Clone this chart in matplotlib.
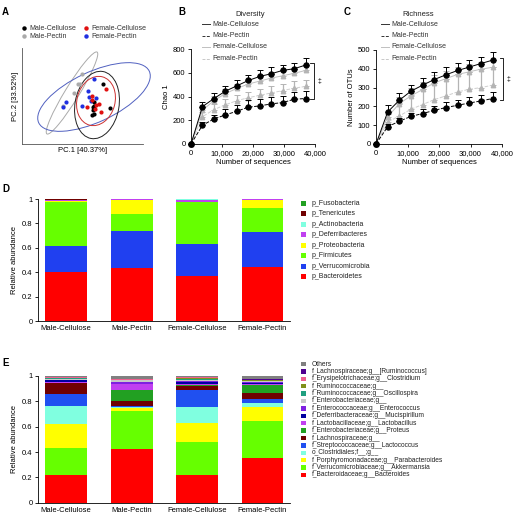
import numpy as np
import matplotlib
matplotlib.use("Agg")
import matplotlib.pyplot as plt
from matplotlib.patches import Ellipse, Rectangle
from matplotlib.ticker import FuncFormatter

plt.rcParams['font.family'] = ['Liberation Sans', 'DejaVu Sans']

W, H = 515, 524

# ---- panel A : PCoA ----
mc_pts_x = [81, 88, 71, 72, 70, 72, 71, 72]
mc_pts_y = [60, 36, 37, 42, 29, 30, 34, 38]
fc_pts_x = [84, 70, 77, 65, 74, 79, 70, 73]
fc_pts_y = [55, 44, 40, 37, 39, 32, 48, 35]
fp_pts_x = [72, 66, 74, 69, 60, 44, 41, 67]
fp_pts_y = [65, 53, 46, 43, 38, 42, 37, 47]
mp_pts_x = [60, 56, 52, 41, 58]
mp_pts_y = [70, 60, 51, 38, 60]
# ellipses: centre x, centre y, major, minor, angle
ell_mc = (75, 39, 68, 44, 80)
ell_fc = (74, 43, 50, 38, 75)
ell_fp = (72, 47, 122, 50, 25)
ell_mp = (50, 51, 96, 14, 58.5)

# ---- panels B/C : rarefaction ----
seqs = [0, 3700, 7400, 11100, 14800, 18500, 22200, 25900, 29600, 33300, 37000]
chao_mc = [0, 315, 383, 445, 490, 535, 569, 592, 620, 634, 665]
chao_mc_err = [0, 35, 45, 40, 45, 50, 50, 55, 45, 50, 60]
chao_mp = [0, 158, 211, 245, 276, 310, 321, 338, 349, 377, 383]
chao_mp_err = [0, 30, 35, 50, 55, 60, 55, 60, 55, 65, 65]
chao_fc = [0, 285, 365, 425, 468, 505, 530, 555, 575, 595, 620]
chao_fc_err = [0, 30, 40, 35, 40, 40, 40, 40, 40, 40, 40]
chao_fp = [0, 230, 290, 330, 365, 390, 410, 430, 450, 470, 485]
chao_fp_err = [0, 40, 50, 50, 50, 50, 50, 55, 55, 60, 50]

otu_mc = [0, 170, 233, 281, 313, 343, 368, 391, 409, 428, 446]
otu_mc_err = [0, 40, 40, 35, 37, 41, 40, 42, 40, 36, 41]
otu_mp = [0, 92, 121, 147, 162, 179, 194, 206, 218, 229, 242]
otu_mp_err = [0, 15, 15, 20, 22, 25, 28, 30, 30, 30, 32]
otu_fc = [0, 144, 215, 256, 290, 325, 348, 370, 384, 398, 408]
otu_fc_err = [0, 30, 35, 40, 40, 40, 40, 40, 40, 40, 40]
otu_fp = [0, 117, 149, 185, 210, 236, 256, 277, 291, 300, 313]
otu_fp_err = [0, 40, 70, 75, 80, 90, 92, 93, 93, 98, 95]

groups = ["Male-Cellulose", "Male-Pectin", "Female-Cellulose", "Female-Pectin"]

# ---- panel D : phylum ----
phy_bacteroidetes = [0.404, 0.432, 0.369, 0.445]
phy_verruco = [0.211, 0.306, 0.259, 0.287]
phy_firmicutes = [0.363, 0.139, 0.345, 0.191]
phy_proteo = [0.003, 0.118, 0.004, 0.070]
phy_deferri = [0.010, 0.002, 0.018, 0.003]
phy_actino = [0.002, 0.001, 0.002, 0.001]
phy_teneri = [0.006, 0.001, 0.002, 0.002]
phy_fuso = [0.001, 0.001, 0.001, 0.001]
phy_labels = ["p_Bacteroidetes", "p_Verrucomicrobia", "p_Firmicutes", "p_Proteobacteria",
              "p_Deferribacteres", "p_Actinobacteria", "p_Tenericutes", "p_Fusobacteria"]
phy_colors = ["#ff0000", "#2040f0", "#66ff00", "#ffff00", "#c040f0", "#80ffe0", "#700000", "#22a022"]

# ---- panel E : genus ----
gen_bacteroides = [0.221, 0.424, 0.218, 0.353]
gen_akkermansia = [0.208, 0.300, 0.261, 0.292]
gen_parabacteroides = [0.189, 0.023, 0.147, 0.113]
gen_clostridiales = [0.148, 0.005, 0.127, 0.025]
gen_lactococcus = [0.089, 0.010, 0.136, 0.035]
gen_lachno = [0.087, 0.038, 0.032, 0.045]
gen_proteus = [0.003, 0.089, 0.005, 0.063]
gen_lactobacillus = [0.004, 0.045, 0.010, 0.008]
gen_mucispirillum = [0.018, 0.005, 0.015, 0.010]
gen_enterococcus = [0.004, 0.012, 0.010, 0.012]
gen_enterobac = [0.002, 0.015, 0.004, 0.003]
gen_oscillospira = [0.010, 0.003, 0.012, 0.004]
gen_rumino = [0.005, 0.002, 0.008, 0.003]
gen_clostridium = [0.002, 0.002, 0.005, 0.005]
gen_ruminococcus = [0.004, 0.002, 0.004, 0.002]
gen_others = [0.006, 0.025, 0.006, 0.027]
gen_labels = ["f_Bacteroidaceae;g__Bacteroides", "f_Verrucomicrobiaceae;g__Akkermansia",
              "f_Porphyromonadaceae;g__Parabacteroides", "o_Clostridiales;f__;g__",
              "f_Streptococcaceae;g__Lactococcus", "f_Lachnospiraceae;g__",
              "f_Enterobacteriaceae;g__Proteus", "f_Lactobacillaceae;g__Lactobacillus",
              "f_Deferribacteraceae;g__Mucispirillum", "f_Enterococcaceae;g__Enterococcus",
              "f_Enterobacteriaceae;g__", "f_Ruminococcaceae;g__Oscillospira",
              "f_Ruminococcaceae;g__", "f_Erysipelotrichaceae;g__Clostridium",
              "f_Lachnospiraceae;g__[Ruminococcus]", "Others"]
gen_colors = ["#ff0000", "#66ff00", "#ffff00", "#80ffe0", "#2050f0", "#700000", "#22a022",
              "#c040f0", "#0000a0", "#7f20e0", "#c8c8c8", "#20a080", "#80901a", "#f06090",
              "#500090", "#808080"]


def px(l, t, r, b):
    return [l / W, 1 - b / H, (r - l) / W, (b - t) / H]


fig = plt.figure(figsize=(W / 100, H / 100), dpi=100)
# overlay in pixel coords for legends / labels, drawn on top
ov = fig.add_axes([0, 0, 1, 1])
ov.set_xlim(0, W)
ov.set_ylim(H, 0)
ov.axis('off')
ov.set_zorder(10)

for lab, x, y in [("A", 2, 12), ("B", 178, 12), ("C", 344, 12), ("D", 2, 189), ("E", 2, 363)]:
    ov.text(x, y, lab, fontsize=7, fontweight='bold', va='center', ha='left')


def style_spines(ax):
    for s in ['top', 'right']:
        ax.spines[s].set_visible(False)
    for s in ['left', 'bottom']:
        ax.spines[s].set_linewidth(0.6)
    ax.tick_params(width=0.6, length=2.5, labelsize=5.5, pad=1.5)


# ---- A ----
axA = fig.add_axes(px(22, 48, 143, 144))
axA.set_xlim(0, 121)
axA.set_ylim(0, 96)
style_spines(axA)
axA.spines['left'].set_color('#555555')
axA.spines['bottom'].set_color('#555555')
axA.set_xticks([])
axA.set_yticks([])
for e, c in [(ell_mp, '#aaaaaa'), (ell_fp, '#5060c0'), (ell_mc, '#222222'), (ell_fc, '#cc3030')]:
    axA.add_patch(Ellipse((e[0], e[1]), e[2], e[3], angle=e[4], fill=False, ec=c, lw=0.7, clip_on=False))
axA.scatter(mp_pts_x, mp_pts_y, s=9, c='#aaaaaa', lw=0, zorder=3)
axA.scatter(fp_pts_x, fp_pts_y, s=9, c='#2030e0', lw=0, zorder=3)
axA.scatter(mc_pts_x, mc_pts_y, s=9, c='#000000', lw=0, zorder=3)
axA.scatter(fc_pts_x, fc_pts_y, s=9, c='#e01010', lw=0, zorder=3)
axA.set_xlabel("PC.1 [40.37%]", fontsize=5.5, labelpad=2)
axA.set_ylabel("PC.2 [33.52%]", fontsize=5.5, labelpad=2)

legA = [("Male-Cellulose", '#000000', 24, 28), ("Female-Cellulose", '#e01010', 86, 28),
        ("Male-Pectin", '#aaaaaa', 24, 36), ("Female-Pectin", '#2030e0', 86, 36)]
for lab, c, x, y in legA:
    ov.plot([x], [y], 'o', ms=3.2, color=c, mec='none')
    ov.text(x + 5, y, lab, fontsize=5, va='center', ha='left', color='#333333')


# ---- B / C ----
def rare_panel(rect, mc, mce, mp, mpe, fc, fce, fp, fpe, ymax, ystep, title, ylabel, tx, lx, br):
    ax = fig.add_axes(px(*rect))
    ax.patch.set_alpha(0)
    style_spines(ax)
    ax.set_xlim(0, 40000)
    ax.set_ylim(0, ymax)
    ax.set_xticks(np.arange(0, 40001, 10000))
    ax.set_yticks(np.arange(0, ymax + 1, ystep))
    ax.xaxis.set_major_formatter(FuncFormatter(lambda v, p: f"{int(v):,}"))
    gray = '#b4b4b4'
    ax.errorbar(seqs, fp, yerr=[np.zeros(len(fp)), fpe], color='#cfcfcf', ls='--', lw=0.7,
                marker='^', ms=3.2, mfc=gray, mec=gray, ecolor=gray, elinewidth=0.9, capsize=2,
                capthick=0.7, clip_on=False, zorder=2)
    ax.errorbar(seqs, fc, yerr=[np.zeros(len(fc)), fce], color='#c0c0c0', ls='-', lw=0.7,
                marker='^', ms=3.2, mfc=gray, mec=gray, ecolor=gray, elinewidth=0.9, capsize=2,
                capthick=0.7, clip_on=False, zorder=2)
    ax.errorbar(seqs, mp, yerr=[np.zeros(len(mp)), mpe], color='#000000', ls='--', lw=0.7,
                marker='o', ms=3.6, ecolor='#000000', elinewidth=0.7, capsize=2,
                capthick=0.7, clip_on=False, zorder=3)
    ax.errorbar(seqs, mc, yerr=[np.zeros(len(mc)), mce], color='#000000', ls='-', lw=0.7,
                marker='o', ms=3.6, ecolor='#000000', elinewidth=0.7, capsize=2,
                capthick=0.7, clip_on=False, zorder=3)
    ax.set_xlabel("Number of sequences", fontsize=5.5, labelpad=2)
    ax.set_ylabel(ylabel, fontsize=5.5, labelpad=2)
    # significance bracket
    bx0, bx1, blo, bhi, sx = br
    ax.plot([bx0, bx1, bx1, bx0], [bhi, bhi, blo, blo], color='k', lw=0.6, clip_on=False)
    ax.text(sx, (blo + bhi) / 2, "\u2021", fontsize=5, ha='center', va='center')
    ov.text(tx, 15, title, fontsize=5.5, ha='center', va='center', color='#222222')
    styles = [('-', '#333333', "Male-Cellulose"), ('--', '#333333', "Male-Pectin"),
              ('-', '#c0c0c0', "Female-Cellulose"), ('--', '#c8c8c8', "Female-Pectin")]
    for i, (ls, c, lab) in enumerate(styles):
        y = 24 + i * 11.5
        ov.plot([lx, lx + 8], [y, y], ls=ls, color=c, lw=0.7, dashes=(3, 1.5) if ls == '--' else (None, None))
        ov.text(lx + 10, y, lab, fontsize=5, va='center', ha='left', color='#333333')
    return ax


rare_panel((191, 49, 315, 144), chao_mc, chao_mc_err, chao_mp, chao_mp_err, chao_fc, chao_fc_err,
           chao_fp, chao_fp_err, 800, 200, "Diversity", "Chao 1", 250, 202,
           (38500, 39800, 379, 682, 41300))
rare_panel((376, 50, 502, 144), otu_mc, otu_mc_err, otu_mp, otu_mp_err, otu_fc, otu_fc_err,
           otu_fp, otu_fp_err, 500, 100, "Richness", "Number of OTUs", 418, 381,
           (39300, 40300, 234, 457, 42100))


# ---- D / E ----
def bar_panel(rect, layers, colors):
    ax = fig.add_axes(px(*rect))
    style_spines(ax)
    xs = np.arange(len(groups))
    bottom = np.zeros(len(groups))
    for vals, c in zip(layers, colors):
        ax.bar(xs, vals, bottom=bottom, width=0.64, color=c, lw=0)
        bottom += np.array(vals)
    ax.set_xlim(-0.43, 3.42)
    ax.set_ylim(0, 1)
    ax.set_yticks([0, 0.2, 0.4, 0.6, 0.8, 1])
    ax.set_yticklabels(["0", "0.2", "0.4", "0.6", "0.8", "1"])
    ax.set_xticks(xs)
    ax.set_xticklabels(groups)
    ax.tick_params(axis='x', length=0, pad=3)
    ax.set_ylabel("Relative abundance", fontsize=5.5, labelpad=3)
    return ax


bar_panel((38, 199, 290, 321),
          [phy_bacteroidetes, phy_verruco, phy_firmicutes, phy_proteo, phy_deferri,
           phy_actino, phy_teneri, phy_fuso], phy_colors)
bar_panel((38, 376, 290, 502.7),
          [gen_bacteroides, gen_akkermansia, gen_parabacteroides, gen_clostridiales,
           gen_lactococcus, gen_lachno, gen_proteus, gen_lactobacillus, gen_mucispirillum,
           gen_enterococcus, gen_enterobac, gen_oscillospira, gen_rumino, gen_clostridium,
           gen_ruminococcus, gen_others], gen_colors)


def side_legend(labels, colors, y0, pitch, sq, fs):
    n = len(labels)
    for i in range(n):
        j = n - 1 - i
        y = y0 + i * pitch
        ov.add_patch(Rectangle((303.5 - sq / 2, y - sq / 2), sq, sq, color=colors[j], lw=0))
        ov.text(312, y, labels[j], fontsize=fs, va='center', ha='left', color='#222222')


side_legend(phy_labels, phy_colors, 203.3, 10.5, 5, 5)
side_legend(gen_labels, gen_colors, 364, 7.4, 4.5, 4.8)

fig.savefig("out.png", dpi=100)
